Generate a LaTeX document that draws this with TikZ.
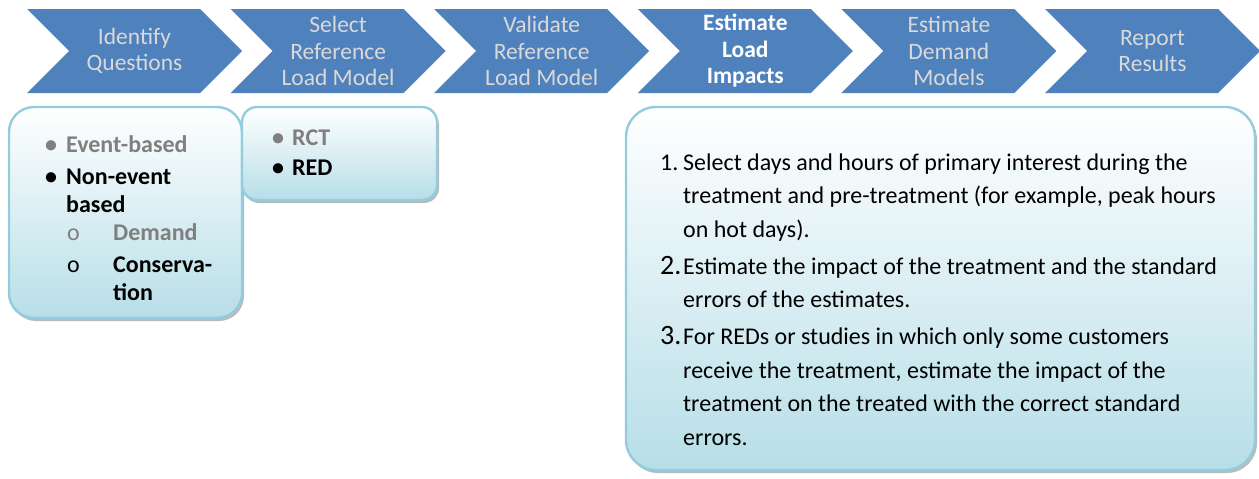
\documentclass[tikz,border=0pt]{standalone}
\usepackage{fontspec}
\setmainfont{Carlito}
\usetikzlibrary{shapes.symbols,shadows}
\definecolor{stepblue}{HTML}{4F81BD}
\definecolor{steptext}{HTML}{D9D9D9}
\definecolor{noteline}{HTML}{93CDDD}
\definecolor{notefill}{HTML}{B7DEE8}
\definecolor{notemuted}{HTML}{7F7F7F}
\tikzset{
  stepchev/.style={signal, signal from=west, signal to=east, signal pointer angle=90,
    fill=stepblue, draw=none, minimum width=215pt, minimum height=84pt, inner sep=0pt,
    font=\fontsize{23.5}{26.5}\selectfont, text=steptext, align=center},
  stepcur/.style={stepchev, text=white, font=\fontsize{23.5}{26.5}\selectfont\bfseries},
  notebox/.style={draw=noteline, line width=2.4pt, top color=white, bottom color=notefill,
    drop shadow={shadow xshift=2pt, shadow yshift=-3pt, fill=black!45, opacity=.6}},
  bullettext/.style={font=\fontsize{24}{28}\selectfont\bfseries, text=black,
    inner sep=0pt, anchor=base west},
  itemtext/.style={font=\fontsize{24}{33.5}\selectfont, text=black,
    inner sep=0pt, anchor=base west}
}

\begin{document}
\begin{tikzpicture}[x=1pt,y=-1pt]
  % process steps along the top, notes for the first, second and fourth step below
  \useasboundingbox (0,0) rectangle (1259,479);
  \node[stepchev] (s1) at (134.5,51) {Identify\\Questions};
  \node[stepchev] (s2) at (338.1,51) {Select\\Reference\\Load Model};
  \node[stepchev] (s3) at (541.7,51) {Validate\\Reference\\Load Model};
  \node[stepcur] (s4) at (745.3,51) {Estimate\\Load\\Impacts};
  \node[stepchev] (s5) at (948.9,51) {Estimate\\Demand\\Models};
  \node[stepchev] (s6) at (1152.5,51) {Report\\Results};

  \node[notebox, rounded corners=25pt, minimum width=233pt, minimum height=211pt] (qbox) at (125.5,212.5) {};
  \node[notebox, rounded corners=15pt, minimum width=195pt, minimum height=93pt] (dbox) at (339.5,153.5) {};
  \node[notebox, rounded corners=30pt, minimum width=629pt, minimum height=363pt] (ibox) at (940.5,288.5) {};

  \node[bullettext] (qlist) at (45,152) {\begin{tabular}[t]{@{}p{21pt}@{}p{47pt}@{}l@{}}
    \textcolor{notemuted}{\textbullet} & \multicolumn{2}{@{}l@{}}{\textcolor{notemuted}{Event-based}}\\[4pt]
    \textbullet & \multicolumn{2}{@{}l@{}}{Non-event}\\
     & \multicolumn{2}{@{}l@{}}{based}\\
     & \hspace{1pt}\textcolor{notemuted}{\mdseries o} & \textcolor{notemuted}{Demand}\\[4pt]
     & \hspace{1pt}{\mdseries o} & Conserva-\\
     & & tion
  \end{tabular}};
  \node[bullettext] (dlist) at (272,145) {\begin{tabular}[t]{@{}p{20pt}@{}l@{}}
    \textcolor{notemuted}{\textbullet} & \textcolor{notemuted}{RCT}\\[2pt]
    \textbullet & RED
  \end{tabular}};
  \node[itemtext] (steps) at (660,170) {\begin{tabular}[t]{@{}p{23pt}@{}l@{}}
    1. & Select days and hours of primary interest during the\\
     & treatment and pre-treatment (for example, peak hours\\
     & on hot days).\\[3.5pt]
    {\fontsize{28}{33.5}\selectfont 2.} & Estimate the impact of the treatment and the standard\\
     & errors of the estimates.\\[3.5pt]
    {\fontsize{28}{33.5}\selectfont 3.} & For REDs or studies in which only some customers\\
     & receive the treatment, estimate the impact of the\\
     & treatment on the treated with the correct standard\\
     & errors.
  \end{tabular}};
\end{tikzpicture}
\end{document}
